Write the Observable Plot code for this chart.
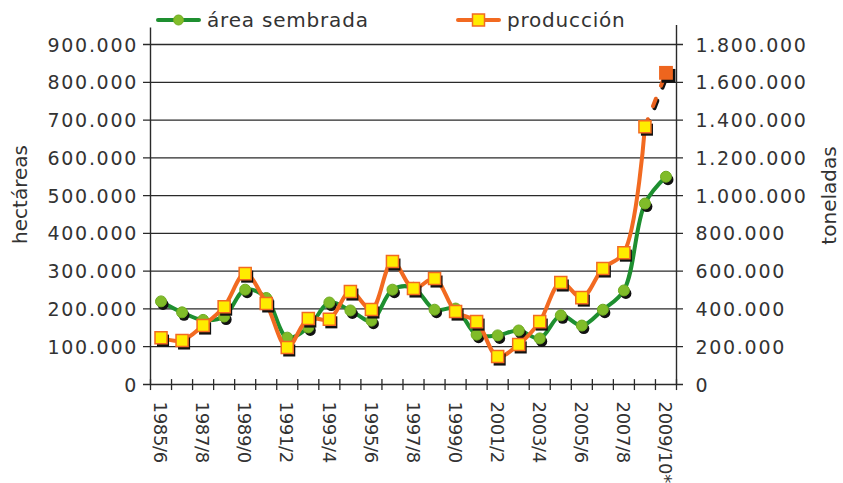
<!DOCTYPE html>
<html>
<head>
<meta charset="utf-8">
<script src="https://cdn.jsdelivr.net/npm/d3@7"></script>
<script src="https://cdn.jsdelivr.net/npm/@observablehq/plot@0.6"></script>
<style>
  body { margin: 0; background: #fff; }
  #wrap { position: relative; width: 843px; height: 483px; font-family: "DejaVu Sans", sans-serif; color: #333; }
  #legend { position: absolute; left: 0; top: 0; width: 843px; height: 40px; }
  .item { position: absolute; top: 8px; display: flex; align-items: center; font-size: 20px; letter-spacing: 0.8px; color: #333; }
  .item svg { margin-right: 5px; }
  g[aria-description="ylab"] text { letter-spacing: 1.7px; }
  g[aria-description="xlab"] text { letter-spacing: -0.3px; }
</style>
</head>
<body>
<div id="wrap">
  <div id="chart"></div>
  <div id="legend">
    <div class="item" style="left:155px">
      <svg width="47" height="14"><line x1="3" x2="44" y1="7" y2="7" stroke="#1e8f30" stroke-width="4" stroke-linecap="round"/><circle cx="23.5" cy="7" r="5" fill="#82bd2a" stroke="#6fab20" stroke-width="1"/></svg>
      <span>área sembrada</span>
    </div>
    <div class="item" style="left:455px">
      <svg width="47" height="14"><line x1="3" x2="44" y1="7" y2="7" stroke="#f26a21" stroke-width="4" stroke-linecap="round"/><rect x="17.5" y="1" width="12" height="12" fill="#ffec00" stroke="#f26a21" stroke-width="1.5"/></svg>
      <span>producción</span>
    </div>
  </div>
</div>
<script>
// Campaigns (x categories)
const campaigns = ["1985/6","1986/7","1987/8","1988/9","1989/0","1990/1","1991/2","1992/3","1993/4","1994/5",
  "1995/6","1996/7","1997/8","1998/9","1999/0","2000/1","2001/2","2002/3","2003/4","2004/5",
  "2005/6","2006/7","2007/8","2008/9","2009/10*"];

// área sembrada (hectáreas, left axis)
const areaSembrada = [220000,191000,171000,180000,251000,229000,124000,151000,217000,196000,
  169000,251000,256000,198000,201000,132000,130000,143000,122000,183000,
  156000,198000,249000,479000,550000];

// producción (toneladas, right axis) 1985/6 – 2008/9
const produccion = [248000,233000,312000,412000,587000,429000,196000,349000,345000,492000,
  397000,651000,508000,561000,386000,333000,148000,212000,333000,540000,
  460000,614000,698000,1365000];

// producción estimada 2009/10
const produccionEstimada = [{campaign: "2009/10*", value: 1650000}];

// axis ticks
const leftTicks = [0,100000,200000,300000,400000,500000,600000,700000,800000,900000];
const rightTicks = [0,200000,400000,600000,800000,1000000,1200000,1400000,1600000,1800000];
const labelEvery = 2;

const fmt = d3.formatLocale({decimal: ",", thousands: ".", grouping: [3], currency: ["", ""]}).format(",");

const idx = new Map(campaigns.map((c, i) => [c, i]));
const areaData = campaigns.map((c, i) => ({i, c, v: areaSembrada[i]}));
const prodData = produccion.map((v, i) => ({i, c: campaigns[i], v: v / 2}));   // right axis = 2 × left axis
const lastProd = prodData[prodData.length - 1];
const estData = produccionEstimada.map(d => ({i: idx.get(d.campaign), c: d.campaign, v: d.value / 2}));
const dashData = [lastProd, ...estData];
const xLabels = campaigns.map((c, i) => ({i, c})).filter(d => d.i % labelEvery === 0);

const n = campaigns.length;
const bw = (843 - 150 - 167) / n;
const ext = 7 / bw;

const chart = Plot.plot({
  width: 843,
  height: 483,
  marginTop: 44,
  marginBottom: 99,
  marginLeft: 150,
  marginRight: 167,
  x: {type: "linear", domain: [-0.5, n - 0.5], axis: null},
  y: {domain: [0, 900000], axis: null},
  style: {fontFamily: "DejaVu Sans", color: "#333", background: "transparent", overflow: "visible"},
  marks: [
    // gridlines + tick crosses on both axes
    Plot.ruleY(leftTicks, {x1: -0.5 - ext, x2: n - 0.5 + ext, stroke: "#2a2a2a", strokeWidth: 1.3, strokeOpacity: 1}),
    // axis lines
    Plot.ruleX([-0.5], {y1: 0, y2: 944000, stroke: "#2a2a2a", strokeWidth: 1.4}),
    Plot.ruleX([n - 0.5], {y1: 0, y2: 950000, stroke: "#2a2a2a", strokeWidth: 1.4}),
    // category boundary ticks
    Plot.ruleX(d3.range(-0.5, n, 1), {y1: -16000, y2: 13000, stroke: "#2a2a2a", strokeWidth: 1.3}),
    // left tick labels
    Plot.text(leftTicks, {x: -0.5, y: d => d, text: d => fmt(d), textAnchor: "end", dx: -12.5, dy: 1, fontSize: 19, fill: "#333", ariaDescription: "ylab"}),
    // right tick labels
    Plot.text(rightTicks, {x: n - 0.5, y: d => d / 2, text: d => fmt(d), textAnchor: "start", dx: 19, dy: 1, fontSize: 19, fill: "#333", ariaDescription: "ylab"}),
    // x labels
    Plot.text(xLabels, {x: "i", y: 0, text: "c", rotate: 90, textAnchor: "start", dy: 17, dx: -1, fontSize: 18, fill: "#333", ariaDescription: "xlab"}),
    // axis titles
    Plot.text(["hectáreas"], {frameAnchor: "left", textAnchor: "middle", rotate: -90, dx: -130, dy: -20, fontSize: 20, fill: "#333"}),
    Plot.text(["toneladas"], {frameAnchor: "right", textAnchor: "middle", rotate: -90, dx: 153, dy: -19, fontSize: 20, fill: "#333"}),

    // área sembrada series
    Plot.line(areaData, {x: "i", y: "v", curve: "catmull-rom", stroke: "#1e8f30", strokeWidth: 4}),
    Plot.dot(areaData, {x: "i", y: "v", r: 5.5, fill: "#111", dx: 2, dy: 3}),
    Plot.dot(areaData, {x: "i", y: "v", r: 5.5, fill: "#80bc29", stroke: "#6fab20", strokeWidth: 1}),

    // producción series
    Plot.line(dashData, {x: "i", y: "v", stroke: "#111", strokeWidth: 4, strokeDasharray: "8,14", dx: 1.5, dy: 2}),
    Plot.line(dashData, {x: "i", y: "v", stroke: "#e8601c", strokeWidth: 4, strokeDasharray: "8,14"}),
    Plot.line(prodData, {x: "i", y: "v", curve: "catmull-rom", stroke: "#f26a21", strokeWidth: 4}),
    Plot.dot(prodData, {x: "i", y: "v", symbol: "square", r: 6.8, fill: "#111", dx: 2, dy: 3}),
    Plot.dot(prodData, {x: "i", y: "v", symbol: "square", r: 6.8, fill: "#ffec00", stroke: "#f26a21", strokeWidth: 1.5}),
    Plot.dot(estData, {x: "i", y: "v", symbol: "square", r: 7.8, fill: "#111", dx: 2.5, dy: 3}),
    Plot.dot(estData, {x: "i", y: "v", symbol: "square", r: 7.8, fill: "#ee651e"})
  ]
});
document.getElementById("chart").appendChild(chart);
</script>
</body>
</html>
